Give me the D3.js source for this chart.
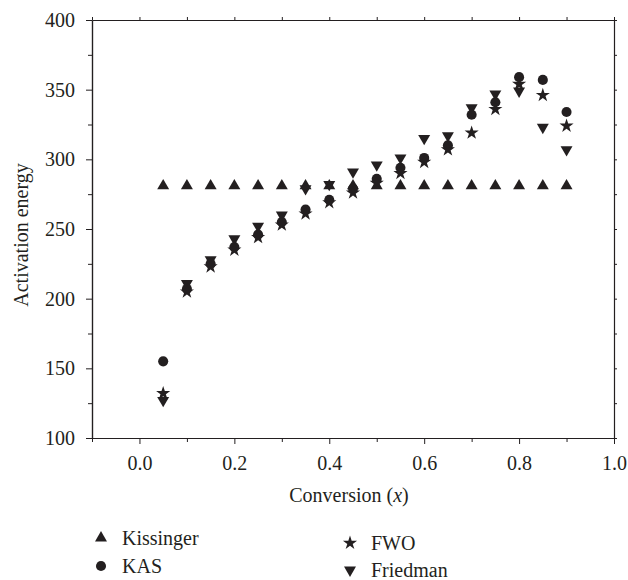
<!DOCTYPE html>
<html>
<head>
<meta charset="utf-8">
<script src="https://cdn.jsdelivr.net/npm/d3@7"></script>
<style>
  html, body { margin: 0; padding: 0; background: #fff; }
  svg { display: block; }
</style>
</head>
<body>
<svg id="chart" width="628" height="580"></svg>
<script>
const conversion = [0.05, 0.1, 0.15, 0.2, 0.25, 0.3, 0.35, 0.4, 0.45, 0.5, 0.55, 0.6, 0.65, 0.7, 0.75, 0.8, 0.85, 0.9];
const kissinger = [281, 281, 281, 281, 281, 281, 281, 281, 281, 281, 281, 281, 281, 281, 281, 281, 281, 281];
const kas      = [155, 207, 225, 237, 246, 255, 264, 271, 279, 286, 294, 301, 310, 332, 341, 359, 357, 334];
const fwo      = [132, 205, 223, 235, 244, 253, 261, 269, 276, 283, 290, 298, 307, 319, 336, 354, 346, 324];
const friedman = [127, 211, 228, 243, 252, 260, 279, 282, 291, 296, 301, 315, 317, 337, 347, 349, 323, 307];
const xTicks = [0.0, 0.2, 0.4, 0.6, 0.8, 1.0];
const xMinor = [-0.1, 0.1, 0.3, 0.5, 0.7, 0.9];
const yTicks = [100, 150, 200, 250, 300, 350, 400];
const yMinor = [125, 175, 225, 275, 325, 375];
const seriesNames = ["Kissinger", "KAS", "FWO", "Friedman"];

(function () {
const ink = "#231f20";
const FONT = "'Liberation Serif', 'Times New Roman', serif";
const svg = d3.select("#chart");
const L = 92, R = 614, T = 20, B = 438;
const x = d3.scaleLinear().domain([-0.1, 1.0]).range([L, R]);
const y = d3.scaleLinear().domain([100, 400]).range([B, T]);

const fs = 20;

// axes
svg.append("g").attr("transform", `translate(0,${B})`)
  .call(d3.axisBottom(x).tickValues(xTicks).tickFormat(d3.format(".1f")).tickSize(6).tickSizeOuter(0).tickPadding(12));
svg.append("g").attr("transform", `translate(0,${B})`)
  .call(d3.axisBottom(x).tickValues(xMinor).tickFormat("").tickSize(4).tickSizeOuter(0));
svg.append("g").attr("transform", `translate(0,${T})`)
  .call(d3.axisTop(x).tickValues(xTicks.concat(xMinor)).tickFormat("").tickSize(3).tickSizeOuter(0));
svg.append("g").attr("transform", `translate(${L},0)`)
  .call(d3.axisLeft(y).tickValues(yTicks).tickSize(6).tickSizeOuter(0).tickPadding(11));
svg.append("g").attr("transform", `translate(${L},0)`)
  .call(d3.axisLeft(y).tickValues(yMinor).tickFormat("").tickSize(4).tickSizeOuter(0));
svg.append("g").attr("transform", `translate(${R},0)`)
  .call(d3.axisRight(y).tickValues(yTicks.concat(yMinor)).tickFormat("").tickSize(3).tickSizeOuter(0));

svg.selectAll(".domain").attr("stroke", ink).attr("stroke-width", 1.2);
svg.selectAll(".tick line").attr("stroke", ink).attr("stroke-width", 1);
svg.selectAll(".tick text").style("font-size", fs + "px").style("font-family", FONT).attr("fill", ink);

// axis titles
const xt = svg.append("text").attr("x", 349).attr("y", 502)
  .attr("text-anchor", "middle").style("font-size", fs + "px").style("font-family", FONT).attr("fill", ink);
xt.append("tspan").text("Conversion (");
xt.append("tspan").attr("font-style", "italic").text("x");
xt.append("tspan").text(")");

svg.append("text").attr("transform", `translate(28,235) rotate(-90)`)
  .attr("text-anchor", "middle").style("font-size", fs + "px").style("font-family", FONT)
  .attr("fill", ink).text("Activation energy");

// symbols
const sym = {
  Kissinger: { gen: d3.symbol(d3.symbolTriangle, 62), rot: 0 },
  KAS:       { gen: d3.symbol(d3.symbolCircle, 80), rot: 0 },
  FWO:       { gen: d3.symbol(d3.symbolStar, 62), rot: 0 },
  Friedman:  { gen: d3.symbol(d3.symbolTriangle, 62), rot: 180 }
};
const dataBy = { Kissinger: kissinger, KAS: kas, FWO: fwo, Friedman: friedman };

["Kissinger", "Friedman", "KAS", "FWO"].forEach(name => {
  const vals = dataBy[name];
  svg.append("g").selectAll("path").data(conversion.map((c, i) => [c, vals[i]]))
    .join("path")
    .attr("d", sym[name].gen())
    .attr("fill", ink)
    .attr("transform", d => `translate(${x(d[0])},${y(d[1])}) rotate(${sym[name].rot})`);
});

// legend
const legendItems = [
  { name: seriesNames[0], lx: 101, ly: 538 },
  { name: seriesNames[1], lx: 101, ly: 566 },
  { name: seriesNames[2], lx: 350, ly: 543 },
  { name: seriesNames[3], lx: 350, ly: 570 }
];
const lg = svg.append("g");
legendItems.forEach(it => {
  lg.append("path").attr("d", sym[it.name].gen())
    .attr("fill", ink)
    .attr("transform", `translate(${it.lx},${it.ly}) rotate(${sym[it.name].rot})`);
  lg.append("text").attr("x", it.lx + 21).attr("y", it.ly + 6.5)
    .style("font-size", fs + "px").style("font-family", FONT).attr("fill", ink).text(it.name);
});
})();
</script>
</body>
</html>
